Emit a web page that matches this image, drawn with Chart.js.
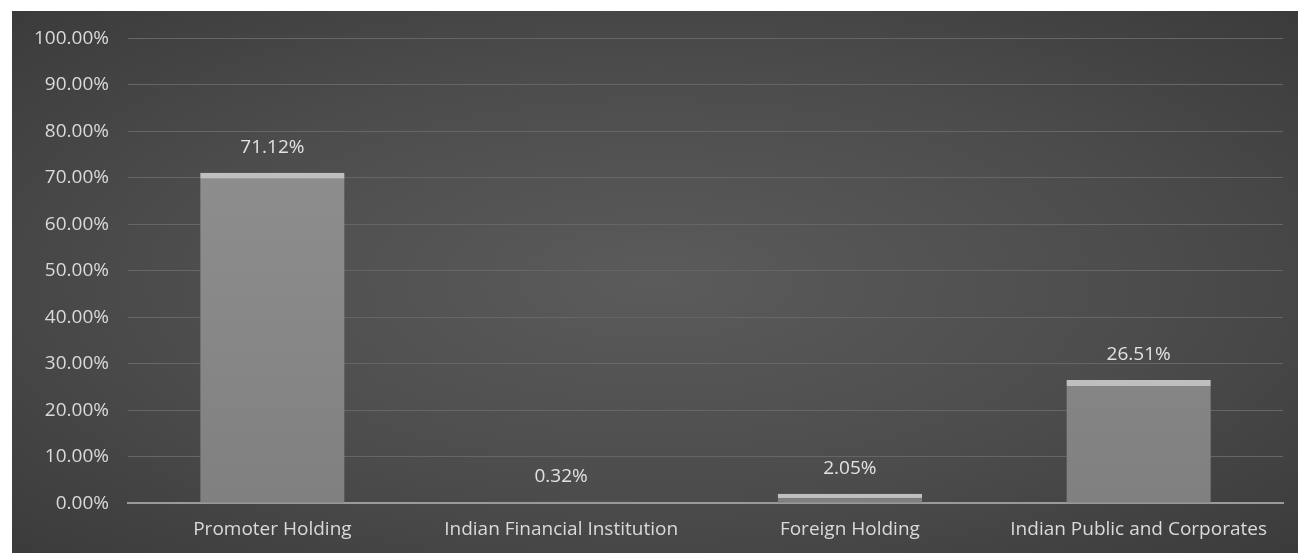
<!DOCTYPE html>
<html>
<head>
<meta charset="utf-8">
<script src="https://cdn.jsdelivr.net/npm/chart.js@4"></script>
<style>
  body { margin: 0; background: #ffffff; }
  #wrap {
    position: absolute; left: 12px; top: 11px; width: 1286px; height: 542px; overflow: hidden;
    background: radial-gradient(ellipse at 50% 50%, #5b5b5b 0%, #4c4c4c 55%, #3b3b3b 100%);
  }
  #inner { position: absolute; left: 0; top: -3px; width: 1286px; height: 545px; }
</style>
</head>
<body>
<div id="wrap"><div id="inner"><canvas id="chart"></canvas></div></div>
<script>
// shareholding pattern
const categories = ["Promoter Holding", "Indian Financial Institution", "Foreign Holding", "Indian Public and Corporates"];
const holding = [71.12, 0.32, 2.05, 26.51];
const yTicks = [0, 10, 20, 30, 40, 50, 60, 70, 80, 90, 100];

const FONT = "'Open Sans', sans-serif";

// value labels above each bar
const valueLabels = {
  id: "valueLabels",
  afterDatasetsDraw(chart) {
    const c = chart.ctx;
    const meta = chart.getDatasetMeta(0);
    c.save();
    c.font = "19px " + FONT;
    c.fillStyle = "#e2e2e2";
    c.textAlign = "center";
    c.textBaseline = "middle";
    meta.data.forEach((bar, i) => {
      c.fillText(holding[i].toFixed(2) + "%", bar.x, bar.y - 25);
    });
    c.restore();
  },
};

const ctx = document.getElementById("chart").getContext("2d");
const myChart = new Chart(ctx, {
  type: "bar",
  data: {
    labels: categories,
    datasets: [
      {
        data: holding,
        backgroundColor: function (context) {
          const area = context.chart.chartArea;
          if (!area) return "#888888";
          const g = context.chart.ctx.createLinearGradient(0, area.top, 0, area.bottom);
          g.addColorStop(0, "#939393");
          g.addColorStop(1, "#808080");
          return g;
        },
        borderColor: "#bfbfbf",
        borderWidth: { top: 6, left: 0, right: 0, bottom: 0 },
        borderSkipped: false,
        barPercentage: 0.5,
        categoryPercentage: 1.0,
      },
    ],
  },
  options: {
    responsive: true,
    maintainAspectRatio: false,
    animation: false,
    layout: {
      padding: { top: 15, right: 15, left: 3, bottom: 5 },
    },
    plugins: {
      legend: { display: false },
      tooltip: { enabled: false },
    },
    scales: {
      y: {
        min: 0,
        max: 100,
        afterBuildTicks: function (axis) {
          axis.ticks = yTicks.map((v) => ({ value: v }));
        },
        ticks: {
          color: "#dadada",
          font: { family: FONT, size: 19 },
          padding: 19,
          callback: function (value) {
            return value.toFixed(2) + "%";
          },
        },
        grid: {
          color: "#666666",
          drawTicks: false,
        },
        border: { display: false },
      },
      x: {
        ticks: {
          color: "#dadada",
          font: { family: FONT, size: 19 },
          padding: 7,
        },
        grid: { display: false },
        border: { color: "#9a9a9a", width: 2 },
      },
    },
  },
  plugins: [valueLabels],
});
</script>
</body>
</html>
